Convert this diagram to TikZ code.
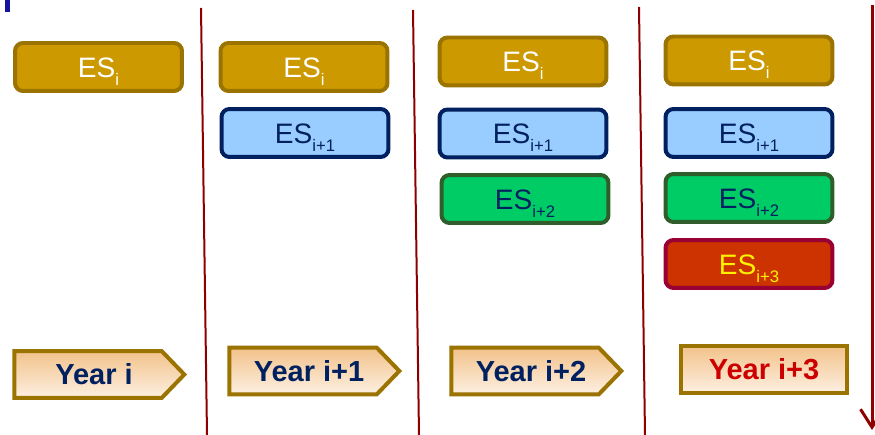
\documentclass[tikz,border=0pt]{standalone}
\usepackage{fontspec}
\setmainfont{Liberation Sans}
\usetikzlibrary{positioning,arrows.meta,shapes.symbols}

\definecolor{goldfill}{HTML}{CC9900}
\definecolor{goldline}{HTML}{9A7300}
\definecolor{bluefill}{HTML}{99CCFF}
\definecolor{navy}{HTML}{002060}
\definecolor{greenfill}{HTML}{00CC66}
\definecolor{greenline}{HTML}{2F5E2A}
\definecolor{redfill}{HTML}{CC3300}
\definecolor{redline}{HTML}{990033}
\definecolor{yeartop}{HTML}{F2C28A}
\definecolor{yearbottom}{HTML}{FDF0E2}
\definecolor{divred}{HTML}{8E0000}
\definecolor{markblue}{HTML}{1414A0}

\newcommand{\esub}[1]{\raisebox{-4.5pt}{\fontsize{9.5}{10}\selectfont #1}}

\begin{document}
\begin{tikzpicture}[
    x=0.02cm, y=-0.02cm,
    esbox/.style={rectangle, rounded corners=0.16cm, draw, line width=0.08cm, minimum width=3.34cm, minimum height=0.96cm, inner sep=0pt, text height=11.5pt, text depth=0pt, font=\fontsize{16}{18}\selectfont},
    esi/.style={esbox, fill=goldfill, draw=goldline, text=white},
    esj/.style={esbox, fill=bluefill, draw=navy, text=navy},
    esk/.style={esbox, fill=greenfill, draw=greenline, text=navy},
    esl/.style={esbox, fill=redfill, draw=redline, text=yellow},
    yearbox/.style={draw=goldline, line width=0.08cm, top color=yeartop, bottom color=yearbottom, minimum height=0.94cm, inner sep=0pt, text height=11.8pt, text depth=0pt, font=\bfseries\fontsize{16.5}{18}\selectfont, text=navy},
    yeararrow/.style={yearbox, signal, signal to=east, signal pointer angle=92, minimum width=3.4cm},
    divider/.style={line width=0.04cm, divred}
]
\useasboundingbox (0,0) rectangle (875,435);

\fill[markblue] (5,0) rectangle (10,12);

% Column 1
\node[esi] (ei1) at (98.5,67) {ES\esub{i}};

% Column 2
\node[esi] (ei2) at (304,67) {ES\esub{i}};
\node[esj] (ej2) at (305,133) {ES\esub{i+1}};

% Column 3
\node[esi] (ei3) at (523,61.5) {ES\esub{i}};
\node[esj] (ej3) at (523,133.5) {ES\esub{i+1}};
\node[esk] (ek3) at (525,199) {ES\esub{i+2}};

% Column 4
\node[esi] (ei4) at (749,60.5) {ES\esub{i}};
\node[esj] (ej4) at (749,133) {ES\esub{i+1}};
\node[esk] (ek4) at (749,198) {ES\esub{i+2}};
\node[esl] (el4) at (749,264) {ES\esub{i+3}};

% Years
\node[yeararrow] (yr1) at (88,374.5) {\hspace{0.24cm}Year i};
\node[yeararrow] (yr2) at (303,371) {\hspace{0.24cm}Year i+1};
\node[yeararrow] (yr3) at (525,371) {\hspace{0.24cm}Year i+2};
\node[yearbox, minimum width=3.32cm, text=red!80!black] (yr4) at (764,369.5) {Year i+3};

% Dividers
\coordinate (t1) at (201,8);   \coordinate (b1) at (207,435);
\coordinate (t2) at (413,10);  \coordinate (b2) at (419,435);
\coordinate (t3) at (639,7);   \coordinate (b3) at (645,435);
\coordinate (t4) at (872,5);   \coordinate (b4) at (872,430);
\foreach \n in {1,2,3} {
    \draw[divider] (t\n) -- (b\n);
}
\draw[divider, line width=0.06cm, -{Straight Barb[length=0.36cm, width=0.46cm]}] (t4) -- (b4);

\end{tikzpicture}
\end{document}
